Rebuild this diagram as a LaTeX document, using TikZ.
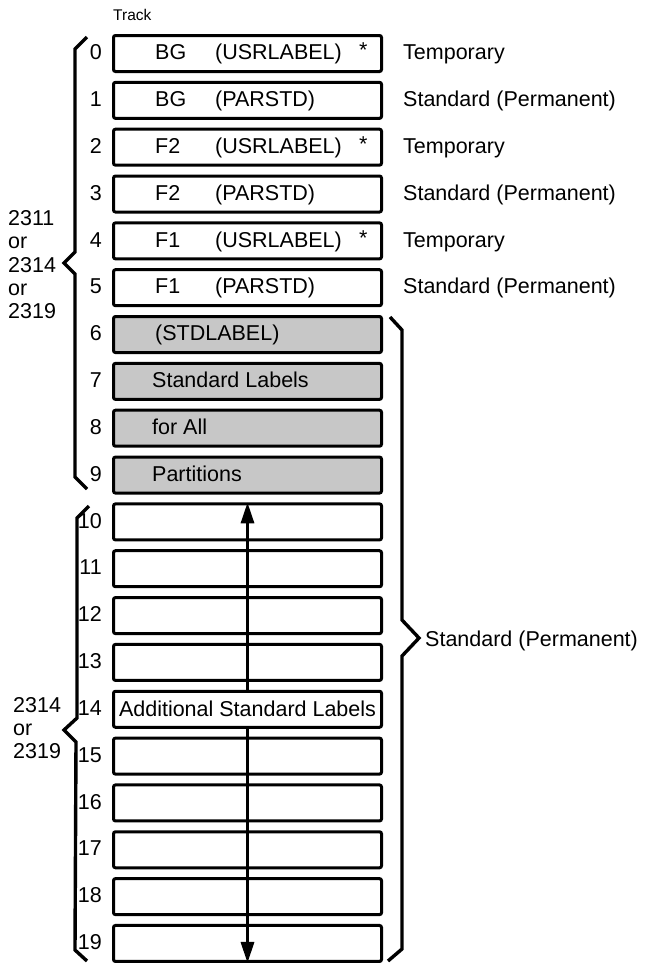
\documentclass[tikz,border=0pt]{standalone}
\usepackage{fontspec}
\setmainfont{Liberation Sans}
\usetikzlibrary{arrows.meta}
\begin{document}
\begin{tikzpicture}[x=1pt,y=-1pt,
  trackbox/.style={draw, line width=3pt, rounded corners=2pt,
    minimum width=268pt, minimum height=36pt, inner sep=0pt, anchor=north west},
  shadedbox/.style={trackbox, fill=black!22},
  txt/.style={font=\fontsize{21.5}{24}\selectfont, inner sep=0pt},
  numlbl/.style={txt, anchor=base east},
  boxtxt/.style={txt, anchor=base west},
  bracepath/.style={line width=3.4pt, line join=miter, line cap=butt},
  updown/.style={line width=3.2pt, -{Triangle[length=21pt,width=13pt]}}]
\useasboundingbox (0,0) rectangle (659,964);

% Title
\node[font=\fontsize{15.5}{17}\selectfont, inner sep=0pt, anchor=west] (track) at (113,15) {Track};

% Boxes
\foreach \i in {0,...,19}{
  \pgfmathsetmacro\yy{34+46.84*\i}
  \pgfmathsetmacro\bb{34+46.84*\i+18+7.7}
  \ifnum\i<6
    \node[trackbox] (b\i) at (112,\yy) {};
  \else\ifnum\i<10
    \node[shadedbox] (b\i) at (112,\yy) {};
  \else
    \node[trackbox] (b\i) at (112,\yy) {};
  \fi\fi
  \node[numlbl] (n\i) at (102,\bb) {\i};
}

% Texts inside boxes (baselines)
\node[boxtxt] (t0a) at (155,59.7) {BG};
\node[boxtxt] (t0b) at (215,59.7) {(USRLABEL)};
\node[boxtxt] (t0c) at (359,57.7) {*};
\node[boxtxt] (t1a) at (155,106.5) {BG};
\node[boxtxt] (t1b) at (215,106.5) {(PARSTD)};
\node[boxtxt] (t2a) at (155,153.4) {F2};
\node[boxtxt] (t2b) at (215,153.4) {(USRLABEL)};
\node[boxtxt] (t2c) at (359,151.4) {*};
\node[boxtxt] (t3a) at (155,200.2) {F2};
\node[boxtxt] (t3b) at (215,200.2) {(PARSTD)};
\node[boxtxt] (t4a) at (155,247.1) {F1};
\node[boxtxt] (t4b) at (215,247.1) {(USRLABEL)};
\node[boxtxt] (t4c) at (359,245.1) {*};
\node[boxtxt] (t5a) at (155,293.9) {F1};
\node[boxtxt] (t5b) at (215,293.9) {(PARSTD)};
\node[boxtxt] (t6) at (155,340.7) {(STDLABEL)};
\node[boxtxt] (t7) at (152,387.6) {Standard Labels};
\node[boxtxt] (t8) at (152,434.4) {for All};
\node[boxtxt] (t9) at (152,481.3) {Partitions};
\node[txt] (t14) at (b14.center) {Additional Standard Labels};

% Right labels
\node[boxtxt] (r0) at (403,59.7) {Temporary};
\node[boxtxt] (r1) at (403,106.5) {Standard (Permanent)};
\node[boxtxt] (r2) at (403,153.4) {Temporary};
\node[boxtxt] (r3) at (403,200.2) {Standard (Permanent)};
\node[boxtxt] (r4) at (403,247.1) {Temporary};
\node[boxtxt] (r5) at (403,293.9) {Standard (Permanent)};
\node[boxtxt] (rstd) at (425,646) {Standard (Permanent)};

% Left device labels
\node[boxtxt] (d1) at (8,225) {2311};
\node[boxtxt] (d2) at (8,248) {or};
\node[boxtxt] (d3) at (8,272) {2314};
\node[boxtxt] (d4) at (8,295) {or};
\node[boxtxt] (d5) at (8,318) {2319};
\node[boxtxt] (e1) at (13,712) {2314};
\node[boxtxt] (e2) at (13,735) {or};
\node[boxtxt] (e3) at (13,758) {2319};

% Braces
\draw[bracepath] (87,37) -- (75,49) -- (75,252) -- (64,263) -- (75,274) -- (75,477) -- (87,489);
\draw[bracepath] (89,506) -- (77,518) -- (77,718) -- (64,730) -- (76,742) -- (75,950) -- (87,961);
\draw[bracepath] (390,317) -- (402,330) -- (402,620) -- (419,638) -- (402,656) -- (402,949) -- (388,961);

% Arrows
\draw[updown] (b14.north) -- (b10.north);
\draw[updown] (b14.south) -- (b19.south);
\end{tikzpicture}
\end{document}
